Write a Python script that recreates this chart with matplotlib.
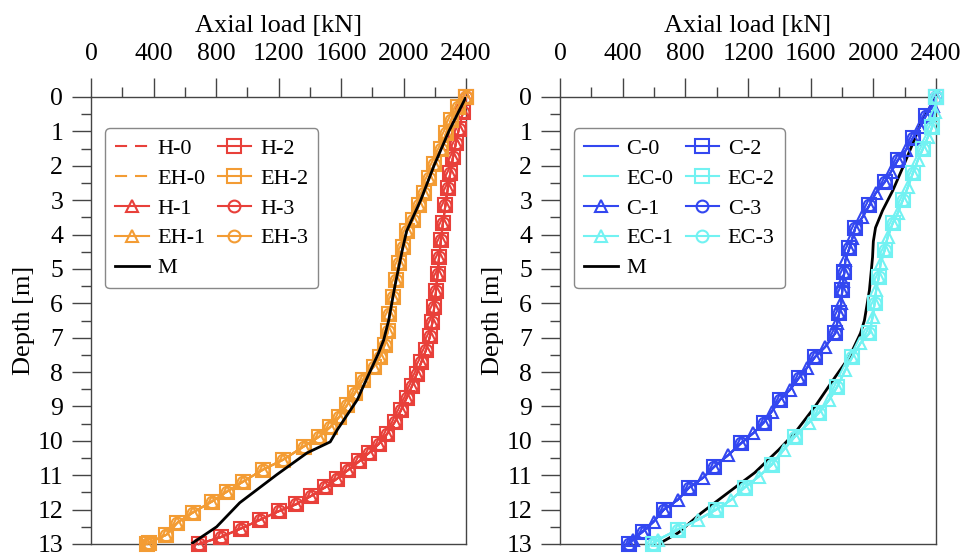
import matplotlib
matplotlib.use("Agg")
import matplotlib.pyplot as plt

plt.rcParams['font.family'] = ['Liberation Serif', 'DejaVu Serif']
plt.rcParams['mathtext.fontset'] = 'stix'

# ---------------- data ----------------
# Left panel: H / EH series (H-0..H-3 share one curve, EH-0..EH-3 share one curve)
H_depth = [0.0, 0.45, 0.92, 1.35, 1.75, 2.2, 2.65, 3.15, 3.65, 4.15, 4.65, 5.15, 5.65,
           6.1, 6.55, 6.95, 7.35, 7.7, 8.05, 8.4, 8.75, 9.1, 9.45, 9.8, 10.1, 10.35,
           10.6, 10.85, 11.1, 11.35, 11.6, 11.85, 12.05, 12.3, 12.55, 12.8, 13.0]
H_load = [2400, 2380, 2355, 2335, 2317, 2300, 2284, 2268, 2253, 2240, 2228, 2218, 2208,
          2197, 2185, 2170, 2145, 2115, 2085, 2055, 2020, 1985, 1945, 1895, 1840, 1780,
          1715, 1645, 1575, 1500, 1410, 1310, 1200, 1080, 960, 830, 690]

EH_depth = [0.0, 0.3, 0.68, 1.06, 1.5, 1.94, 2.37, 2.78, 3.15, 3.58, 3.9, 4.37, 4.84,
            5.33, 5.82, 6.3, 6.8, 7.2, 7.55, 7.85, 8.23, 8.6, 8.95, 9.3, 9.6, 9.88,
            10.17, 10.55, 10.84, 11.19, 11.48, 11.77, 12.09, 12.38, 12.73, 12.96, 13.0]
EH_load = [2400, 2348, 2304, 2272, 2240, 2196, 2163, 2130, 2098, 2059, 2020, 1995, 1970,
           1950, 1930, 1910, 1900, 1880, 1850, 1808, 1740, 1690, 1640, 1590, 1531, 1460,
           1360, 1229, 1100, 972, 869, 772, 650, 553, 483, 373, 360]

M_left_depth = [0.0, 1.0, 2.0, 3.0, 3.9, 4.5, 5.5, 6.5, 7.07, 7.45, 8.14, 8.8, 9.68,
                10.03, 10.35, 10.98, 11.8, 12.5, 12.97]
M_left_load = [2400, 2290, 2195, 2110, 2020, 1990, 1945, 1905, 1873, 1840, 1770, 1705, 1576,
               1531, 1383, 1190, 952, 804, 650]

# Right panel: C / EC series
C_depth = [0.0, 0.25, 0.54, 0.88, 1.2, 1.55, 1.84, 2.19, 2.48, 2.8, 3.15, 3.5, 3.8, 4.11,
           4.4, 4.75, 5.09, 5.35, 5.6, 6.0, 6.29, 6.58, 6.87, 7.27, 7.56, 7.88, 8.17, 8.52,
           8.81, 9.15, 9.47, 9.77, 10.06, 10.41, 10.75, 11.07, 11.36, 11.71, 12.0, 12.35,
           12.64, 12.88, 13.0]
C_load = [2400, 2380, 2336, 2297, 2252, 2207, 2156, 2111, 2072, 2014, 1975, 1930, 1885, 1866,
          1847, 1821, 1815, 1808, 1802, 1795, 1782, 1769, 1757, 1692, 1628, 1576, 1525, 1467,
          1403, 1351, 1300, 1235, 1158, 1075, 985, 914, 824, 753, 663, 598,
          528, 463, 440]

EC_depth = [0.0, 0.45, 0.88, 1.17, 1.5, 1.84, 2.22, 2.63, 3.0, 3.38, 3.67, 4.08, 4.46, 4.84,
            5.24, 5.62, 6.0, 6.4, 6.87, 7.16, 7.56, 7.94, 8.43, 8.81, 9.18, 9.47, 9.88,
            10.26, 10.7, 11.04, 11.36, 11.71, 12.0, 12.29, 12.58, 12.88, 13.0]
EC_load = [2400, 2395, 2375, 2348, 2317, 2284, 2252, 2220, 2188, 2156, 2124, 2091, 2072, 2046,
           2035, 2018, 2008, 1995, 1975, 1918, 1866, 1821, 1769, 1718, 1654, 1589, 1499,
           1428, 1351, 1268, 1178, 1094, 997, 882, 753, 624, 592]

M_right_depth = [0.0, 0.7, 1.35, 2.05, 2.72, 3.3, 3.8, 4.2, 4.66, 5.62, 6.5, 6.87, 7.56,
                 8.14, 9.0, 9.77, 10.26, 10.93, 11.5, 12.1, 12.68, 12.93, 13.0]
M_right_load = [2400, 2310, 2252, 2188, 2124, 2059, 2014, 2000, 1995, 1975, 1943, 1918, 1847,
                1757, 1628, 1499, 1396, 1242, 1075, 901, 753, 656, 640]

x_ticks = [0, 400, 800, 1200, 1600, 2000, 2400]
y_ticks = list(range(0, 14))

RED = '#E8403A'
ORANGE = '#F39C34'
BLUE = '#3347F0'
CYAN = '#72F2F2'

# ---------------- figure ----------------
fig = plt.figure(figsize=(9.6, 5.57), dpi=100)
axL = fig.add_axes([91/960, 1-544/557, 375/960, 447/557])
axR = fig.add_axes([560/960, 1-544/557, 376/960, 447/557])

LW = 1.5
MEW = 1.5


def style(ax):
    ax.set_xlim(0, 2400)
    ax.set_ylim(13, 0)
    ax.xaxis.tick_top()
    ax.xaxis.set_label_position('top')
    ax.set_xticks(x_ticks)
    ax.set_xticks([200, 600, 1000, 1400, 1800, 2200], minor=True)
    ax.set_yticks(y_ticks)
    ax.set_yticks([v + 0.5 for v in range(13)], minor=True)
    ax.tick_params(which='major', direction='out', length=14, width=1.0,
                   labelsize=18.5, color='#444444')
    ax.tick_params(which='minor', direction='out', length=7, width=1.0, color='#444444')
    ax.tick_params(axis='x', which='major', pad=9)
    ax.tick_params(axis='y', which='major', pad=6)
    ax.set_xlabel('Axial load [kN]', fontsize=19, labelpad=8)
    ax.set_ylabel('Depth [m]', fontsize=19, labelpad=2)
    for s in ax.spines.values():
        s.set_linewidth(1.0)
        s.set_color('#444444')


def group(ax, depth, load, color, names, dashed, alt):
    ls0 = (0, (5.8, 3.8)) if dashed else '-'
    ax.plot(load, depth, color=color, lw=LW, ls=ls0, label=names[0], clip_on=False, zorder=3)
    ax.plot(load, depth, color=color, lw=LW, marker='^', ms=9, mew=MEW,
            fillstyle='none', label=names[1], clip_on=False, zorder=4)
    ax.plot(load, depth, color=color, lw=LW, marker='s', ms=9.5, mew=MEW,
            fillstyle='none', label=names[2], clip_on=False, zorder=4,
            markevery=(2 if alt else 1))
    ax.plot(load, depth, color=color, lw=LW, marker='o', ms=8.5, mew=MEW,
            fillstyle='none', label=names[3], clip_on=False, zorder=4,
            markevery=(2 if alt else 1))


def legend(ax, handles_order):
    handles, labels = ax.get_legend_handles_labels()
    d = dict(zip(labels, handles))
    hs = [d[n] for n in handles_order]
    leg = ax.legend(hs, handles_order, ncol=2, loc='upper left',
                    bbox_to_anchor=(0.02, 0.945), fontsize=16, frameon=True,
                    fancybox=True, framealpha=1, edgecolor='#888888',
                    handlelength=1.5, handletextpad=0.4, columnspacing=0.55,
                    labelspacing=0.42, borderpad=0.45, borderaxespad=0.3)
    leg.get_frame().set_linewidth(1.0)


# Left panel
group(axL, H_depth, H_load, RED, ['H-0', 'H-1', 'H-2', 'H-3'], True, False)
group(axL, EH_depth, EH_load, ORANGE, ['EH-0', 'EH-1', 'EH-2', 'EH-3'], True, False)
axL.plot(M_left_load, M_left_depth, color='black', lw=2.0, label='M', zorder=5)
style(axL)
legend(axL, ['H-0', 'EH-0', 'H-1', 'EH-1', 'M', 'H-2', 'EH-2', 'H-3', 'EH-3'])

# Right panel
group(axR, C_depth, C_load, BLUE, ['C-0', 'C-1', 'C-2', 'C-3'], False, True)
group(axR, EC_depth, EC_load, CYAN, ['EC-0', 'EC-1', 'EC-2', 'EC-3'], False, True)
axR.plot(M_right_load, M_right_depth, color='black', lw=2.0, label='M', zorder=3.5)
style(axR)
legend(axR, ['C-0', 'EC-0', 'C-1', 'EC-1', 'M', 'C-2', 'EC-2', 'C-3', 'EC-3'])

fig.savefig('out.png', dpi=100)
